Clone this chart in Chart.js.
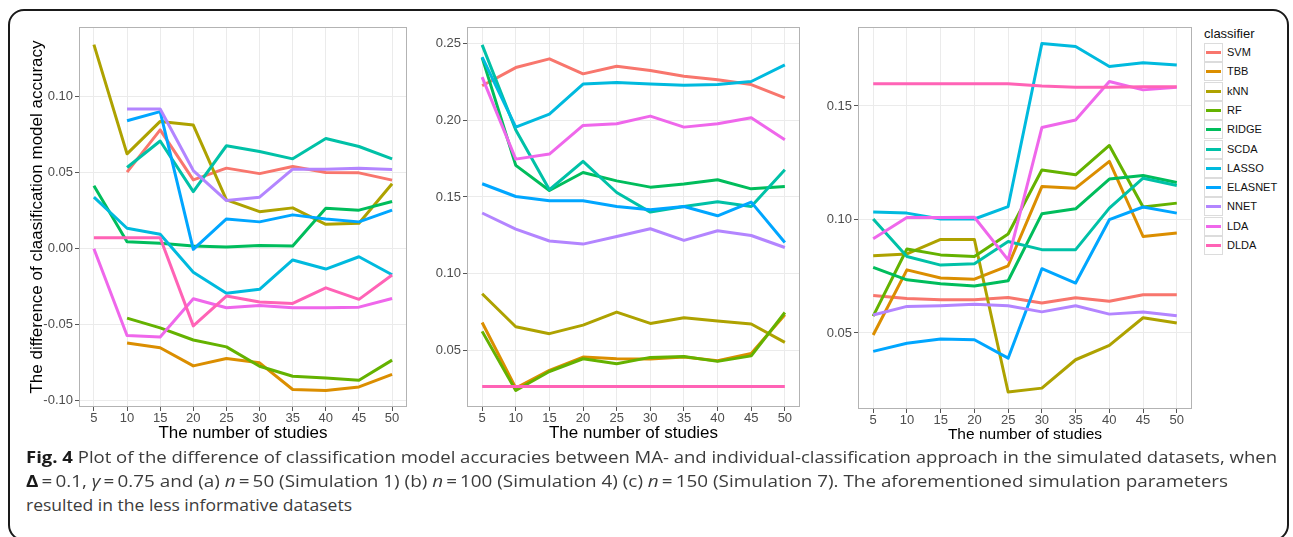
<!DOCTYPE html>
<html>
<head>
<meta charset="utf-8">
<script src="https://cdn.jsdelivr.net/npm/chart.js"></script>
<style>
  html, body { margin: 0; padding: 0; background: #fff; }
  body { width: 1293px; height: 537px; position: relative; overflow: hidden; font-family: 'Liberation Sans', Arial, sans-serif; }
  #frame { position: absolute; left: 8px; top: 9px; width: 1281px; height: 532px; box-sizing: border-box; border: 2px solid #1a1a1a; border-radius: 16px; }
  canvas { position: absolute; }
  #legend { position: absolute; left: 1204px; top: 26px; }
  #legend .ttl { position: absolute; left: 0; top: 0; font-size: 13px; color: #111; white-space: nowrap; line-height: 16px; }
  .key { position: absolute; left: 0; width: 19px; height: 19px; box-sizing: border-box; border: 1px solid #dcdcdc; background: #fff; }
  .key span { position: absolute; left: 1px; right: 1px; top: 7px; height: 3px; }
  .lab { position: absolute; left: 23px; font-size: 11px; color: #111; white-space: nowrap; line-height: 19px; }
  .cap { position: absolute; left: 26px; font-family: 'Open Sans', 'Noto Sans', sans-serif; font-size: 16px; line-height: 24px; color: #3c3c3c; white-space: nowrap; transform-origin: 0 50%; }
  .cap b { color: #1a1a1a; }
</style>
</head>
<body>
<div id="frame"></div>
<canvas id="c1" width="400" height="440" style="left:10px;top:10px"></canvas>
<canvas id="c2" width="395" height="440" style="left:410px;top:10px"></canvas>
<canvas id="c3" width="395" height="440" style="left:805px;top:10px"></canvas>
<div id="legend"></div>
<div class="cap" id="cap1" data-w="1251" style="top:445px"><b>Fig. 4</b> Plot of the difference of classification model accuracies between MA- and individual-classification approach in the simulated datasets, when</div>
<div class="cap" id="cap2" data-w="1202" style="top:469px"><b>Δ</b>&thinsp;=&thinsp;0.1, <i>γ</i>&thinsp;=&thinsp;0.75 and (a) <i>n</i>&thinsp;=&thinsp;50 (Simulation 1) (b) <i>n</i>&thinsp;=&thinsp;100 (Simulation 4) (c) <i>n</i>&thinsp;=&thinsp;150 (Simulation 7). The aforementioned simulation parameters</div>
<div class="cap" id="cap3" data-w="326" style="top:493px">resulted in the less informative datasets</div>
<script>
// ---- data ----
const studies = [5, 10, 15, 20, 25, 30, 35, 40, 45, 50];
const classifiers = ['SVM', 'TBB', 'kNN', 'RF', 'RIDGE', 'SCDA', 'LASSO', 'ELASNET', 'NNET', 'LDA', 'DLDA'];
const colors = ['#F8766D', '#DB8E00', '#AEA200', '#64B200', '#00BD5C', '#00C1A7', '#00BADE', '#00A6FF', '#B385FF', '#EF67EB', '#FF63B6'];

// (a) n = 50
const svm1     = [null, 0.0503, 0.0780, 0.0452, 0.0529, 0.0493, 0.0540, 0.0500, 0.0498, 0.0450];
const tbb1     = [null, -0.0620, -0.0651, -0.0770, -0.0721, -0.0750, -0.0925, -0.0932, -0.0908, -0.0826];
const knn1     = [0.1340, 0.0623, 0.0836, 0.0812, 0.0320, 0.0243, 0.0268, 0.0160, 0.0167, 0.0426];
const rf1      = [null, -0.0456, -0.0520, -0.0600, -0.0645, -0.0772, -0.0838, -0.0849, -0.0864, -0.0732];
const ridge1   = [0.0413, 0.0046, 0.0035, 0.0018, 0.0011, 0.0020, 0.0018, 0.0266, 0.0253, 0.0310];
const scda1    = [null, 0.0533, 0.0707, 0.0375, 0.0676, 0.0638, 0.0590, 0.0724, 0.0671, 0.0590];
const lasso1   = [0.0338, 0.0134, 0.0095, -0.0155, -0.0293, -0.0267, -0.0074, -0.0134, -0.0053, -0.0171];
const elasnet1 = [null, 0.0840, 0.0900, -0.0004, 0.0195, 0.0176, 0.0222, 0.0195, 0.0176, 0.0253];
const nnet1    = [null, 0.0917, 0.0917, 0.0513, 0.0316, 0.0338, 0.0522, 0.0522, 0.0529, 0.0520];
const lda1     = [0.0000, -0.0570, -0.0580, -0.0329, -0.0388, -0.0373, -0.0388, -0.0388, -0.0384, -0.0327];
const dlda1    = [0.0072, 0.0072, 0.0072, -0.0507, -0.0311, -0.0350, -0.0360, -0.0257, -0.0333, -0.0173];

// (b) n = 100
const svm2     = [0.2226, 0.2345, 0.2402, 0.2304, 0.2354, 0.2326, 0.2289, 0.2265, 0.2234, 0.2147];
const tbb2     = [0.0680, 0.0252, 0.0367, 0.0454, 0.0443, 0.0441, 0.0454, 0.0430, 0.0478, 0.0731];
const knn2     = [0.0868, 0.0652, 0.0607, 0.0663, 0.0748, 0.0674, 0.0711, 0.0690, 0.0670, 0.0550];
const rf2      = [0.0622, 0.0236, 0.0360, 0.0443, 0.0411, 0.0452, 0.0458, 0.0426, 0.0462, 0.0745];
const ridge2   = [0.2410, 0.1706, 0.1542, 0.1660, 0.1605, 0.1564, 0.1584, 0.1612, 0.1553, 0.1568];
const scda2    = [0.2493, 0.1937, 0.1547, 0.1732, 0.1529, 0.1401, 0.1438, 0.1468, 0.1438, 0.1677];
const lasso2   = [0.2413, 0.1956, 0.2041, 0.2237, 0.2247, 0.2237, 0.2230, 0.2234, 0.2254, 0.2363];
const elasnet2 = [0.1586, 0.1503, 0.1475, 0.1475, 0.1438, 0.1416, 0.1438, 0.1377, 0.1466, 0.1203];
const nnet2    = [0.1395, 0.1290, 0.1212, 0.1192, 0.1242, 0.1292, 0.1216, 0.1279, 0.1248, 0.1170];
const lda2     = [0.2283, 0.1747, 0.1780, 0.1967, 0.1978, 0.2028, 0.1956, 0.1978, 0.2017, 0.1873];
const dlda2    = [0.0262, 0.0262, 0.0262, 0.0262, 0.0262, 0.0262, 0.0262, 0.0262, 0.0262, 0.0262];

// (c) n = 150
const svm3     = [0.0665, 0.0652, 0.0646, 0.0646, 0.0656, 0.0632, 0.0655, 0.0640, 0.0668, 0.0668];
const tbb3     = [0.0491, 0.0778, 0.0742, 0.0737, 0.0796, 0.1145, 0.1138, 0.1256, 0.0925, 0.0940];
const knn3     = [0.0840, 0.0848, 0.0912, 0.0912, 0.0240, 0.0257, 0.0382, 0.0445, 0.0567, 0.0544];
const rf3      = [0.0574, 0.0870, 0.0844, 0.0837, 0.0936, 0.1218, 0.1197, 0.1326, 0.1055, 0.1072];
const ridge3   = [0.0789, 0.0734, 0.0717, 0.0707, 0.0730, 0.1025, 0.1047, 0.1178, 0.1194, 0.1163];
const scda3    = [0.1002, 0.0837, 0.0799, 0.0805, 0.0903, 0.0867, 0.0867, 0.1050, 0.1182, 0.1150];
const lasso3   = [0.1033, 0.1028, 0.1002, 0.1002, 0.1057, 0.1775, 0.1762, 0.1674, 0.1690, 0.1681];
const elasnet3 = [0.0419, 0.0455, 0.0473, 0.0470, 0.0389, 0.0783, 0.0720, 0.0999, 0.1055, 0.1028];
const nnet3    = [0.0579, 0.0617, 0.0620, 0.0626, 0.0620, 0.0593, 0.0620, 0.0583, 0.0592, 0.0576];
const lda3     = [0.0915, 0.1009, 0.1009, 0.1010, 0.0822, 0.1405, 0.1438, 0.1608, 0.1571, 0.1583];
const dlda3    = [0.1598, 0.1598, 0.1598, 0.1598, 0.1598, 0.1588, 0.1583, 0.1583, 0.1585, 0.1585];

const yTicks1 = [-0.10, -0.05, 0.00, 0.05, 0.10];
const yTicks2 = [0.05, 0.10, 0.15, 0.20, 0.25];
const yTicks3 = [0.05, 0.10, 0.15];
const xTitle = 'The number of studies';
const yTitle = 'The difference of claasification model accuracy';

// ---- drawing ----
const FAM = "'Liberation Sans', Arial, sans-serif";
const framePlugin = {
  id: 'panelFrame',
  afterDraw(chart) {
    const a = chart.chartArea, c = chart.ctx;
    c.save();
    c.strokeStyle = '#b3b3b3';
    c.lineWidth = 1;
    c.strokeRect(Math.round(a.left) + 0.5, Math.round(a.top) + 0.5, Math.round(a.right - a.left) - 1, Math.round(a.bottom - a.top) - 1);
    c.restore();
  }
};

function panel(id, series, o) {
  return new Chart(document.getElementById(id), {
    type: 'line',
    data: {
      datasets: series.map((vals, i) => ({
        label: classifiers[i],
        data: studies.map((s, j) => ({ x: s, y: vals[j] })),
        borderColor: colors[i],
        backgroundColor: colors[i],
        borderWidth: 3,
        pointRadius: 0,
        tension: 0,
        fill: false,
        spanGaps: false,
        borderJoinStyle: 'round',
        order: 11 - i
      }))
    },
    options: {
      responsive: false,
      animation: false,
      events: [],
      devicePixelRatio: 1,
      layout: { padding: { left: 0, right: o.padRight, top: 17, bottom: 0 } },
      plugins: { legend: { display: false }, tooltip: { enabled: false } },
      scales: {
        x: {
          type: 'linear', min: 2.75, max: 52.25,
          afterBuildTicks: s => { s.ticks = studies.map(v => ({ value: v })); },
          afterFit: s => { s.height = o.xH; },
          grid: { color: '#ebebeb', lineWidth: 1, drawTicks: true, tickLength: 4, tickColor: '#555' },
          border: { display: false },
          ticks: { color: '#4d4d4d', font: { family: FAM, size: 13 }, padding: 0, maxRotation: 0, autoSkip: false, callback: v => String(v) },
          title: { display: true, text: xTitle, color: '#000', font: { family: FAM, size: o.xTitleSize }, padding: { top: 0, bottom: o.xTitlePad } }
        },
        y: {
          type: 'linear', min: o.yMin, max: o.yMax,
          afterBuildTicks: s => { s.ticks = o.yTicks.map(v => ({ value: v })); },
          afterFit: s => { s.width = o.yW; },
          grid: { color: '#ebebeb', lineWidth: 1, drawTicks: true, tickLength: 4, tickColor: '#555' },
          border: { display: false },
          ticks: { color: '#4d4d4d', font: { family: FAM, size: 13 }, padding: 2, callback: v => Number(v).toFixed(2) },
          title: { display: !!o.yTitle, text: o.yTitle || '', color: '#000', font: { family: FAM, size: 17 }, padding: { top: 17, bottom: 0 } }
        }
      }
    },
    plugins: [framePlugin]
  });
}

panel('c1', [svm1, tbb1, knn1, rf1, ridge1, scda1, lasso1, elasnet1, nnet1, lda1, dlda1],
  { yMin: -0.1040, yMax: 0.1456, yTicks: yTicks1, yW: 69, padRight: 3, xH: 43, xTitleSize: 17, xTitlePad: 6, yTitle: yTitle });
panel('c2', [svm2, tbb2, knn2, rf2, ridge2, scda2, lasso2, elasnet2, nnet2, lda2, dlda2],
  { yMin: 0.0128, yMax: 0.2610, yTicks: yTicks2, yW: 57, padRight: 5, xH: 43, xTitleSize: 17, xTitlePad: 6 });
panel('c3', [svm3, tbb3, knn3, rf3, ridge3, scda3, lasso3, elasnet3, nnet3, lda3, dlda3],
  { yMin: 0.0165, yMax: 0.1848, yTicks: yTicks3, yW: 53, padRight: 8, xH: 41, xTitleSize: 15.5, xTitlePad: 6 });

// legend
const lg = document.getElementById('legend');
const t = document.createElement('div');
t.className = 'ttl'; t.textContent = 'classifier';
lg.appendChild(t);
classifiers.forEach((name, i) => {
  const top = 17 + i * 19.3;
  const k = document.createElement('div');
  k.className = 'key'; k.style.top = top + 'px';
  const sp = document.createElement('span'); sp.style.background = colors[i];
  k.appendChild(sp); lg.appendChild(k);
  const l = document.createElement('div');
  l.className = 'lab'; l.style.top = top + 'px'; l.textContent = name;
  lg.appendChild(l);
});

// fit caption lines to their widths
document.querySelectorAll('.cap').forEach(el => {
  const w = el.getBoundingClientRect().width;
  const target = +el.dataset.w;
  el.style.transform = 'scaleX(' + (target / w) + ')';
});
</script>
</body>
</html>
